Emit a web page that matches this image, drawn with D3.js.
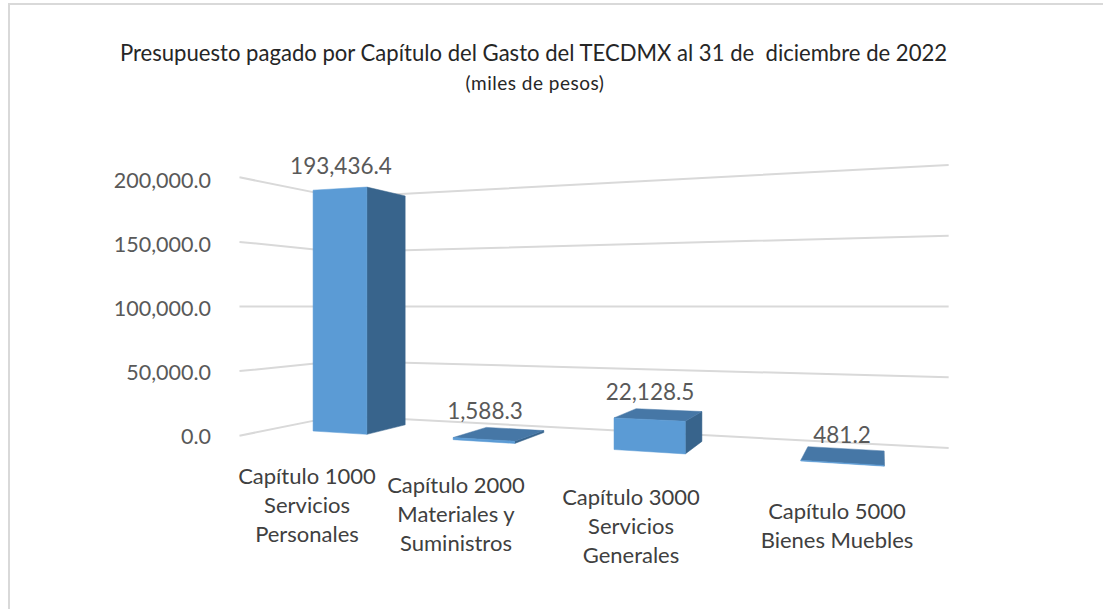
<!DOCTYPE html>
<html><head><meta charset="utf-8">
<script src="https://cdn.jsdelivr.net/npm/d3@7"></script>
<style>html,body{margin:0;padding:0;background:#fff}svg{display:block}text{font-family:Lato,"Open Sans",sans-serif}</style>
</head><body><svg id="c" width="1103" height="609"></svg>
<script>
const categories = [
  ["Capítulo 1000","Servicios","Personales"],
  ["Capítulo 2000","Materiales y","Suministros"],
  ["Capítulo 3000","Servicios","Generales"],
  ["Capítulo 5000","Bienes Muebles"]
];
const values = [193436.4, 1588.3, 22128.5, 481.2];
const tickValues = [0, 50000, 100000, 150000, 200000];
const titleText = "Presupuesto pagado por Capítulo del Gasto del TECDMX al 31 de  diciembre de 2022";
const subtitleText = "(miles de pesos)";

// layout (not data)
const labelCenterX = [307, 456, 631, 837];
const labelFirstY = [476, 485, 497, 511];
const lineGap = 29;
const valueLabelY = [166, 411, 392, 435];
const valueLabelX = [341, 485, 650, 842];

const fmt = d3.format(",.1f");
const svg = d3.select("#c");

// Perspective camera: the floor (X along categories, Z in depth) maps to the screen by a homography
const horizon = 306.5;
const W = (X, Z) => 0.00803 - 0.00052 * X + 0.00063 * Z;
const N = (X, Z) => 2.514 + 0.889 * X + 0.555 * Z;
const vScale = d3.scaleLinear().domain([0, 200000]).range([1, -1]);
const project = (X, Z, v) => {
  const w = W(X, Z);
  return [N(X, Z) / w, horizon + vScale(v) / w];
};
const barW = 0.4, Xmin = -0.3, Xmax = 3.74, Zfront = -0.71, Zback = 1.55;

// frame
svg.append("path").attr("d", "M9,609V4H1103").attr("fill", "none").attr("stroke", "#d9d9d9").attr("stroke-width", 2);

// gridlines on the left and back walls
const line = d3.line();
tickValues.forEach(t => {
  svg.append("path").attr("fill", "none").attr("stroke", "#d9d9d9").attr("stroke-width", 2)
    .attr("d", line([project(Xmin, Zfront, t), project(Xmin, Zback, t), project(Xmax, Zback, t)]));
});

// bars
const poly = (pts, fill) => svg.append("path").attr("d", line(pts) + "Z").attr("fill", fill).attr("stroke", fill).attr("stroke-width", 0.5);
values.forEach((v, i) => {
  const x0 = i, x1 = x0 + barW, z0 = 0, z1 = 1;
  poly([project(x1, z0, 0), project(x1, z1, 0), project(x1, z1, v), project(x1, z0, v)], "#38648c");
  // the top face only shows when the bar ends below the eye level
  if (vScale(v) > 0) poly([project(x0, z0, v), project(x1, z0, v), project(x1, z1, v), project(x0, z1, v)], "#4677a6");
  poly([project(x0, z0, 0), project(x1, z0, 0), project(x1, z0, v), project(x0, z0, v)], "#5b9bd5");
});

// axis labels via a d3 axis
const yAxisScale = d3.scaleLinear().domain([0, 200000]).range([435.5, 179.5]);
const axis = d3.axisLeft(yAxisScale).tickValues(tickValues).tickFormat(fmt).tickSize(0).tickPadding(0);
const gAxis = svg.append("g").attr("transform", "translate(211,0)").call(axis);
gAxis.select(".domain").remove();
gAxis.selectAll("text").attr("fill", "#595959").style("font-size", "21.5px").style("font-family", "Lato,sans-serif").attr("dy", "0.35em");

// value labels
svg.selectAll("text.val").data(values).join("text").attr("class", "val")
  .attr("x", (d, i) => valueLabelX[i]).attr("y", (d, i) => valueLabelY[i]).attr("dy", "0.35em")
  .attr("text-anchor", "middle").attr("fill", "#595959").style("font-size", "22.5px").text(fmt);

// category labels
categories.forEach((lines, i) => {
  lines.forEach((s, k) => {
    svg.append("text").attr("x", labelCenterX[i]).attr("y", labelFirstY[i] + k * lineGap).attr("dy", "0.35em")
      .attr("text-anchor", "middle").attr("fill", "#404040").style("font-size", "22px").text(s);
  });
});

// title
svg.append("text").attr("x", 533.5).attr("y", 53).attr("dy", "0.35em").attr("text-anchor", "middle")
  .attr("fill", "#262626").style("font-size", "22.1px").style("white-space", "pre").text(titleText);
svg.append("text").attr("x", 535).attr("y", 83).attr("dy", "0.35em").attr("text-anchor", "middle")
  .attr("fill", "#262626").style("font-size", "19px").style("letter-spacing", "0.5px").text(subtitleText);
</script></body></html>
